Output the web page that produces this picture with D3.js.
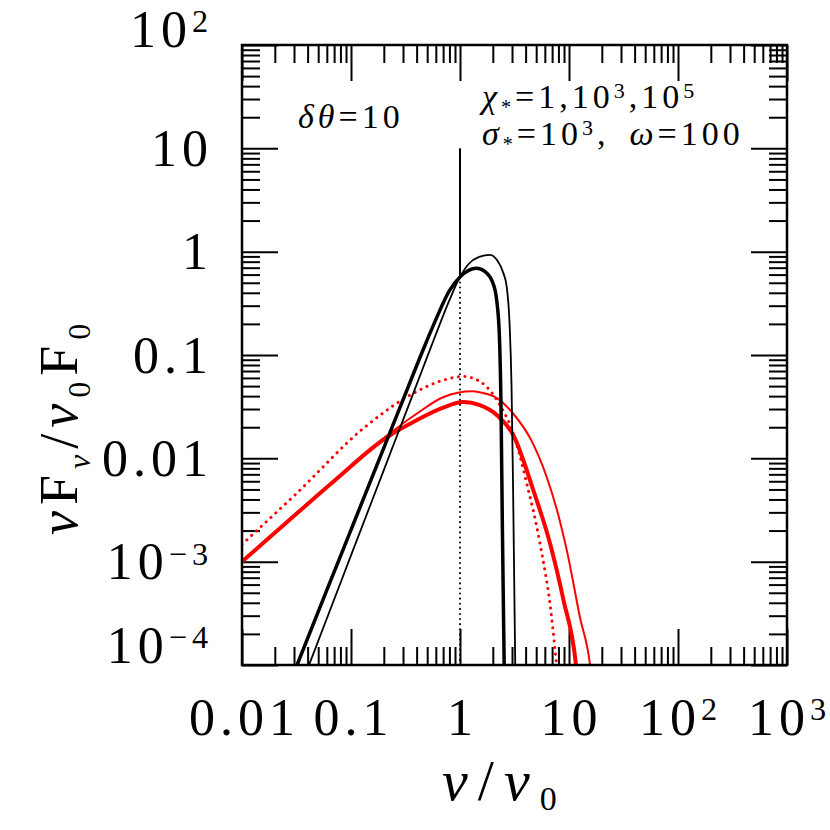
<!DOCTYPE html>
<html>
<head>
<meta charset="utf-8">
<script src="https://cdn.jsdelivr.net/npm/d3@7"></script>
<style>
  body { margin: 0; background: #fff; }
  svg { display: block; }
  text { font-family: "Liberation Serif", serif; fill: #000; }
</style>
</head>
<body>
<div id="chart"></div>
<script>
// axis ranges (log)
const xDomain = [0.01, 1000];
const yDomain = [1e-4, 100];

// tick labels: t = base text, s = superscript
const xTickLabels = [
  {v: 0.01, t: "0.01"}, {v: 0.1, t: "0.1"}, {v: 1, t: "1"},
  {v: 10, t: "10"}, {v: 100, t: "10", s: "2"}, {v: 1000, t: "10", s: "3"}
];
const yTickLabels = [
  {v: 1e-4, t: "10", s: "\u22124"}, {v: 1e-3, t: "10", s: "\u22123"},
  {v: 0.01, t: "0.01"}, {v: 0.1, t: "0.1"}, {v: 1, t: "1"},
  {v: 10, t: "10"}, {v: 100, t: "10", s: "2"}
];

// black curves
const blackThickX = [0.032, 0.06, 0.1, 0.2, 0.3, 0.45, 0.6, 0.8, 1.0, 1.2, 1.42, 1.7, 2.0, 2.17, 2.3, 2.38, 2.45, 2.55];
const blackThickY = [1e-4, 5.3e-4, 2.03e-3, 0.0126, 0.0368, 0.107, 0.22, 0.42, 0.57, 0.66, 0.69, 0.64, 0.5, 0.34, 0.15, 0.03, 2e-3, 8e-5];
const blackThinX = [0.0412, 0.07, 0.1, 0.2, 0.3, 0.45, 0.6, 0.8, 1.0, 1.2, 1.5, 1.88, 2.2, 2.5, 2.68, 2.85, 2.97, 3.07, 3.22];
const blackThinY = [1e-4, 4.3e-4, 1.15e-3, 7.7e-3, 0.0234, 0.0716, 0.158, 0.34, 0.57, 0.76, 0.89, 0.93, 0.82, 0.62, 0.46, 0.2, 0.05, 5e-3, 8e-5];
const spikeX = [1, 1];
const spikeY = [0.57, 10];
const blackDotX = [1, 1];
const blackDotY = [1e-4, 0.57];

// red curves
const redThickX = [0.01, 0.02, 0.0713, 0.213, 0.4, 0.7, 1.07, 1.52, 2.2, 3.08, 4.71, 6.7, 8.88, 11.6, 12];
const redThickY = [1e-3, 1.9e-3, 6.15e-3, 0.016, 0.0234, 0.031, 0.035, 0.0327, 0.026, 0.0168, 0.0049, 0.0015, 4.3e-4, 1e-4, 7e-5];
const redThinX = [0.01, 0.02, 0.0713, 0.213, 0.4, 0.7, 1.3, 1.52, 2.2, 3.08, 4.5, 6.24, 8.0, 9.53, 12.6, 15.6, 16.2];
const redThinY = [1e-3, 1.9e-3, 6.15e-3, 0.0165, 0.027, 0.039, 0.0445, 0.0435, 0.038, 0.027, 0.015, 0.0066, 0.0028, 0.0013, 2.9e-4, 1e-4, 7e-5];
const redDotX = [0.01, 0.0318, 0.13, 0.373, 0.7, 1.07, 1.58, 2.33, 3.08, 4.1, 5.42, 6.93, 7.7, 8];
const redDotY = [1.47e-3, 4.6e-3, 0.0195, 0.0426, 0.057, 0.062, 0.054, 0.0327, 0.0175, 0.0057, 0.0015, 2.9e-4, 1e-4, 7e-5];

const W = 830, H = 830;
const m = {left: 242, top: 45, right: 43, bottom: 165};
const pw = W - m.left - m.right, ph = H - m.top - m.bottom;

const svg = d3.select('#chart').append('svg')
  .attr('width', W).attr('height', H);

const x = d3.scaleLog().domain(xDomain).range([m.left, m.left + pw]);
const y = d3.scaleLog().domain(yDomain).range([m.top + ph, m.top]);

svg.append('clipPath').attr('id', 'clip')
  .append('rect').attr('x', m.left).attr('y', m.top).attr('width', pw).attr('height', ph);

// ticks: majors at decades, minors 2..9
function tickSets(dom) {
  const maj = [], min = [];
  for (let e = Math.log10(dom[0]); e <= Math.log10(dom[1]); e++) {
    maj.push(Math.pow(10, e));
    if (e < Math.log10(dom[1])) for (let k = 2; k < 10; k++) min.push(k * Math.pow(10, e));
  }
  return {maj, min};
}
const xt = tickSets(xDomain), yt = tickSets(yDomain);
const MAJ = 36, MIN = 18;

function drawAxis(axisFn, scale, vals, len, tx, ty) {
  const g = svg.append('g').attr('transform', `translate(${tx},${ty})`)
    .call(axisFn(scale).tickValues(vals).tickSize(-len).tickFormat(''));
  g.select('.domain').remove();
  g.selectAll('.tick line').attr('stroke', '#000').attr('stroke-width', 2);
}
drawAxis(d3.axisBottom, x, xt.maj, MAJ, 0, m.top + ph);
drawAxis(d3.axisBottom, x, xt.min, MIN, 0, m.top + ph);
drawAxis(d3.axisTop, x, xt.maj, MAJ, 0, m.top);
drawAxis(d3.axisTop, x, xt.min, MIN, 0, m.top);
drawAxis(d3.axisLeft, y, yt.maj, MAJ, m.left, 0);
drawAxis(d3.axisLeft, y, yt.min, MIN, m.left, 0);
drawAxis(d3.axisRight, y, yt.maj, MAJ, m.left + pw, 0);
drawAxis(d3.axisRight, y, yt.min, MIN, m.left + pw, 0);

// curves
const line = d3.line().x(d => x(d[0])).y(d => y(d[1])).curve(d3.curveMonotoneX);
const straight = d3.line().x(d => x(d[0])).y(d => y(d[1]));
const plot = svg.append('g').attr('clip-path', 'url(#clip)');

const series = [
  {xs: redDotX, ys: redDotY, c: 'red', w: 3, dash: '0.1 6.5', gen: line},
  {xs: redThinX, ys: redThinY, c: 'red', w: 2, gen: line},
  {xs: redThickX, ys: redThickY, c: 'red', w: 4, gen: line},
  {xs: blackDotX, ys: blackDotY, c: '#000', w: 2, dash: '0.1 5', gen: straight},
  {xs: spikeX, ys: spikeY, c: '#000', w: 2, gen: straight},
  {xs: blackThinX, ys: blackThinY, c: '#000', w: 1.8, gen: line},
  {xs: blackThickX, ys: blackThickY, c: '#000', w: 3.5, gen: line}
];
series.forEach(s => {
  plot.append('path')
    .datum(s.xs.map((v, i) => [v, s.ys[i]]))
    .attr('d', s.gen)
    .attr('fill', 'none')
    .attr('stroke', s.c)
    .attr('stroke-width', s.w)
    .attr('stroke-linecap', s.dash ? 'round' : 'butt')
    .attr('stroke-linejoin', 'round')
    .attr('stroke-dasharray', s.dash || null);
});

// frame
svg.append('rect').attr('x', m.left).attr('y', m.top).attr('width', pw).attr('height', ph)
  .attr('fill', 'none').attr('stroke', '#000').attr('stroke-width', 2.5);

// tick labels
const FS = 52, LS = 5;
function label(sel, d) {
  sel.append('tspan').text(d.t);
  if (d.s) sel.append('tspan').attr('font-size', FS * 0.62).attr('dy', -FS * 0.28).text(d.s);
}
xTickLabels.forEach(d => {
  svg.append('text').attr('x', x(d.v) + LS / 2).attr('y', 735)
    .attr('text-anchor', 'middle').attr('font-size', FS)
    .attr('letter-spacing', LS).call(label, d);
});
yTickLabels.forEach((d, i) => {
  let yy = y(d.v);
  if (i === 0) yy -= 20;
  if (i === yTickLabels.length - 1) yy -= 16;
  svg.append('text').attr('x', 213).attr('y', yy + FS * 0.34)
    .attr('text-anchor', 'end').attr('font-size', FS)
    .attr('letter-spacing', LS).call(label, d);
});

// axis titles
const xt2 = svg.append('text').attr('x', 442).attr('y', 800)
  .attr('font-size', 58).attr('letter-spacing', 10);
xt2.append('tspan').attr('font-style', 'italic').text('\u03bd');
xt2.append('tspan').text('/');
xt2.append('tspan').attr('font-style', 'italic').text('\u03bd');
xt2.append('tspan').attr('font-size', 34).attr('dy', 10).text('0');

const yt2 = svg.append('text').attr('transform', 'translate(77,535) rotate(-90)')
  .attr('font-size', 54).attr('letter-spacing', 6);
yt2.append('tspan').attr('font-style', 'italic').text('\u03bd');
yt2.append('tspan').text('F');
yt2.append('tspan').attr('font-style', 'italic').attr('font-size', 32).attr('dy', 13).text('\u03bd');
yt2.append('tspan').attr('dy', -13).text('/');
yt2.append('tspan').attr('font-style', 'italic').text('\u03bd');
yt2.append('tspan').attr('font-size', 32).attr('dy', 13).text('0');
yt2.append('tspan').attr('dy', -13).text('F');
yt2.append('tspan').attr('font-size', 32).attr('dy', 13).text('0');

// annotations
const AF = 34, AL = 4;
const a1 = svg.append('text').attr('x', 298).attr('y', 128).attr('font-size', AF).attr('letter-spacing', AL);
a1.append('tspan').attr('font-style', 'italic').text('\u03b4\u03b8');
a1.append('tspan').text('=10');

const a2 = svg.append('text').attr('x', 482).attr('y', 108).attr('font-size', AF).attr('letter-spacing', AL);
a2.append('tspan').attr('font-style', 'italic').text('\u03c7');
a2.append('tspan').attr('font-size', 20).attr('dy', 6).text('*');
a2.append('tspan').attr('dy', -6).text('=1,10');
a2.append('tspan').attr('font-size', 22).attr('dy', -10).text('3');
a2.append('tspan').attr('dy', 10).text(',10');
a2.append('tspan').attr('font-size', 22).attr('dy', -10).text('5');

const a3 = svg.append('text').attr('x', 482).attr('y', 145).attr('font-size', AF).attr('letter-spacing', AL);
a3.append('tspan').attr('font-style', 'italic').text('\u03c3');
a3.append('tspan').attr('font-size', 20).attr('dy', 6).text('*');
a3.append('tspan').attr('dy', -6).text('=10');
a3.append('tspan').attr('font-size', 22).attr('dy', -10).text('3');
a3.append('tspan').attr('dy', 10).text(',');
a3.append('tspan').attr('dx', 20).attr('font-style', 'italic').text('\u03c9');
a3.append('tspan').text('=100');
</script>
</body>
</html>
